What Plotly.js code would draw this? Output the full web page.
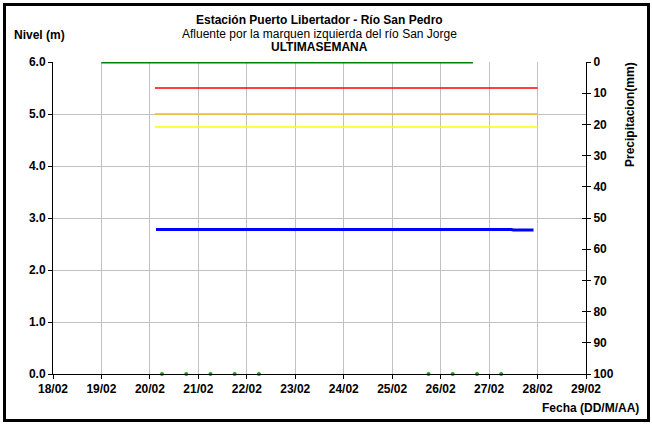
<!DOCTYPE html>
<html>
<head>
<meta charset="utf-8">
<script src="https://cdn.plot.ly/plotly-3.0.1.min.js"></script>
<style>
html,body{margin:0;padding:0;background:#fff;}
#chart{width:652px;height:424px;}
</style>
</head>
<body>
<div id="chart"></div>
<script>
// ---- Data ----
var nivelFechas = [
 '2024-02-20 03:00','2024-02-20 09:00','2024-02-20 15:00','2024-02-20 18:00',
 '2024-02-21 00:00','2024-02-21 06:00','2024-02-21 09:00','2024-02-21 15:00',
 '2024-02-21 16:00','2024-02-21 17:30','2024-02-21 19:00','2024-02-22 00:00',
 '2024-02-22 05:00','2024-02-22 06:00','2024-02-22 12:00','2024-02-22 18:00',
 '2024-02-23 00:00','2024-02-23 01:00','2024-02-23 07:00','2024-02-23 08:00',
 '2024-02-23 18:00','2024-02-24 06:00','2024-02-24 18:00','2024-02-25 06:00',
 '2024-02-25 15:00','2024-02-25 17:00','2024-02-25 19:00','2024-02-26 06:00',
 '2024-02-26 18:00','2024-02-27 06:00','2024-02-27 11:00','2024-02-27 12:00',
 '2024-02-27 17:00','2024-02-27 18:30','2024-02-27 20:00','2024-02-27 22:00'
];
var nivelValores = [
 2.78,2.78,2.78,2.79,
 2.79,2.79,2.78,2.78,
 2.79,2.785,2.79,2.79,
 2.79,2.78,2.78,2.78,
 2.78,2.79,2.79,2.78,
 2.78,2.78,2.78,2.78,
 2.78,2.79,2.78,2.78,
 2.78,2.78,2.78,2.77,
 2.77,2.78,2.77,2.77
];
var precipFechas = [
 '2024-02-19 00:00','2024-02-19 12:00','2024-02-20 00:00','2024-02-20 12:00',
 '2024-02-21 00:00','2024-02-21 12:00','2024-02-22 00:00','2024-02-22 12:00',
 '2024-02-23 00:00','2024-02-23 12:00','2024-02-24 00:00','2024-02-24 12:00',
 '2024-02-25 00:00','2024-02-25 12:00','2024-02-26 00:00','2024-02-26 12:00',
 '2024-02-26 16:00'
];
var precipValores = [0,0,0,0,0,0,0,0,0,0,0,0,0,0,0,0,0];
var puntosFechas = ['2024-02-20 06:00','2024-02-20 18:00','2024-02-21 06:00','2024-02-21 18:00',
 '2024-02-22 06:00','2024-02-25 18:00','2024-02-26 06:00','2024-02-26 18:00','2024-02-27 06:00'];
var puntosValores = [0,0,0,0,0,0,0,0,0];
var umbralFechas = ['2024-02-20 02:30','2024-02-28 00:00'];
var umbralRojo = [5.5,5.5];
var umbralNaranja = [5.0,5.0];
var umbralAmarillo = [4.75,4.75];
var xRango = ['2024-02-18','2024-02-29'];
var nivelRango = [0,6];
var precipRango = [100,0];
var tituloLineas = ['<b>Estación Puerto Libertador - Río San Pedro</b>',
 'Afluente por la marquen izquierda del río San Jorge', '<b>ULTIMASEMANA</b>'];

// ---- Chart ----
var F = 'Arial, "Liberation Sans", sans-serif';
var traces = [
 {x: precipFechas, y: precipValores, yaxis:'y2', mode:'lines', line:{color:'#008000', width:3}, hoverinfo:'skip'},
 {x: umbralFechas, y: umbralRojo, mode:'lines', line:{color:'#ff0000', width:1.5}},
 {x: umbralFechas, y: umbralNaranja, mode:'lines', line:{color:'#fbbc1c', width:1.5}},
 {x: umbralFechas, y: umbralAmarillo, mode:'lines', line:{color:'#ffff00', width:1.5}},
 {x: nivelFechas, y: nivelValores, mode:'lines', line:{color:'#0000ff', width:3}},
 {x: puntosFechas, y: puntosValores, mode:'markers', marker:{color:'#1fa01f', size:4}, cliponaxis:false},
 {x: [xRango[0]], y:[0], yaxis:'y3', mode:'markers', marker:{opacity:0}, hoverinfo:'skip'}
];

var M = {l:53, r:66, t:62, b:50};
var W = 652, H = 424;
var pw = W - M.l - M.r, ph = H - M.t - M.b;
function px(v){ return (v - M.l)/pw; }
function py(v){ return (H - M.b - v)/ph; }
var tickF = {family:F, size:12, color:'#000', weight:'bold'};

var annots = [
 {text:tituloLineas[0], x:px(319), y:py(20), font:{family:F, size:12, color:'#000'}},
 {text:tituloLineas[1], x:px(319), y:py(34), font:{family:F, size:12, color:'#000'}},
 {text:tituloLineas[2], x:px(319), y:py(47), font:{family:F, size:12, color:'#000'}},
 {text:'<b>Nivel (m)</b>', x:px(12), y:py(35), xanchor:'left', font:{family:F, size:12, color:'#000'}},
 {text:'<b>Precipitacion(mm)</b>', x:px(630), y:py(115), textangle:-90, font:{family:F, size:12, color:'#000'}},
 {text:'<b>Fecha (DD/M/AA)</b>', x:px(641), y:py(408), xanchor:'right', font:{family:F, size:12, color:'#000'}}
].map(function(a){
  return Object.assign({xref:'paper', yref:'paper', xanchor:'center', yanchor:'middle', showarrow:false}, a);
});

var layout = {
 width: W, height: H, margin: M,
 paper_bgcolor:'#fff', plot_bgcolor:'#fff',
 showlegend:false,
 font:{family:F, size:12, color:'#000'},
 xaxis:{type:'date', range:xRango, dtick:86400000, tick0:'2024-02-18', tickformat:'%d/%m',
   showgrid:true, gridcolor:'#c0c0c0', gridwidth:1, showline:true, linecolor:'#000', linewidth:1,
   ticks:'outside', ticklen:4, tickcolor:'#000', tickfont:tickF, zeroline:false, fixedrange:true},
 yaxis:{range:nivelRango, dtick:1, tickformat:'.1f', showgrid:true, gridcolor:'#c0c0c0', gridwidth:1,
   showline:true, linecolor:'#000', linewidth:1, ticks:'outside', ticklen:4, tickcolor:'#000',
   tickfont:tickF, zeroline:false, fixedrange:true},
 yaxis2:{range:precipRango, overlaying:'y', side:'right', anchor:'x', dtick:10, showgrid:false,
   showline:true, linecolor:'#000', linewidth:1, ticks:'outside', ticklen:4, tickcolor:'#000',
   tickfont:tickF, zeroline:false, fixedrange:true},
 yaxis3:{range:precipRango, overlaying:'y', side:'right', anchor:'x', dtick:10, showgrid:false,
   showline:false, ticks:'inside', ticklen:4, tickcolor:'#000', showticklabels:false,
   zeroline:false, fixedrange:true},
 annotations: annots,
 shapes:[
   {type:'rect', xref:'paper', yref:'paper', x0:px(4.5), x1:px(648.5), y0:py(4.5), y1:py(420.5),
    line:{color:'#000', width:3}, fillcolor:'rgba(0,0,0,0)', layer:'above'}
 ]
};
Plotly.newPlot('chart', traces, layout, {staticPlot:true, displayModeBar:false});
</script>
</body>
</html>
